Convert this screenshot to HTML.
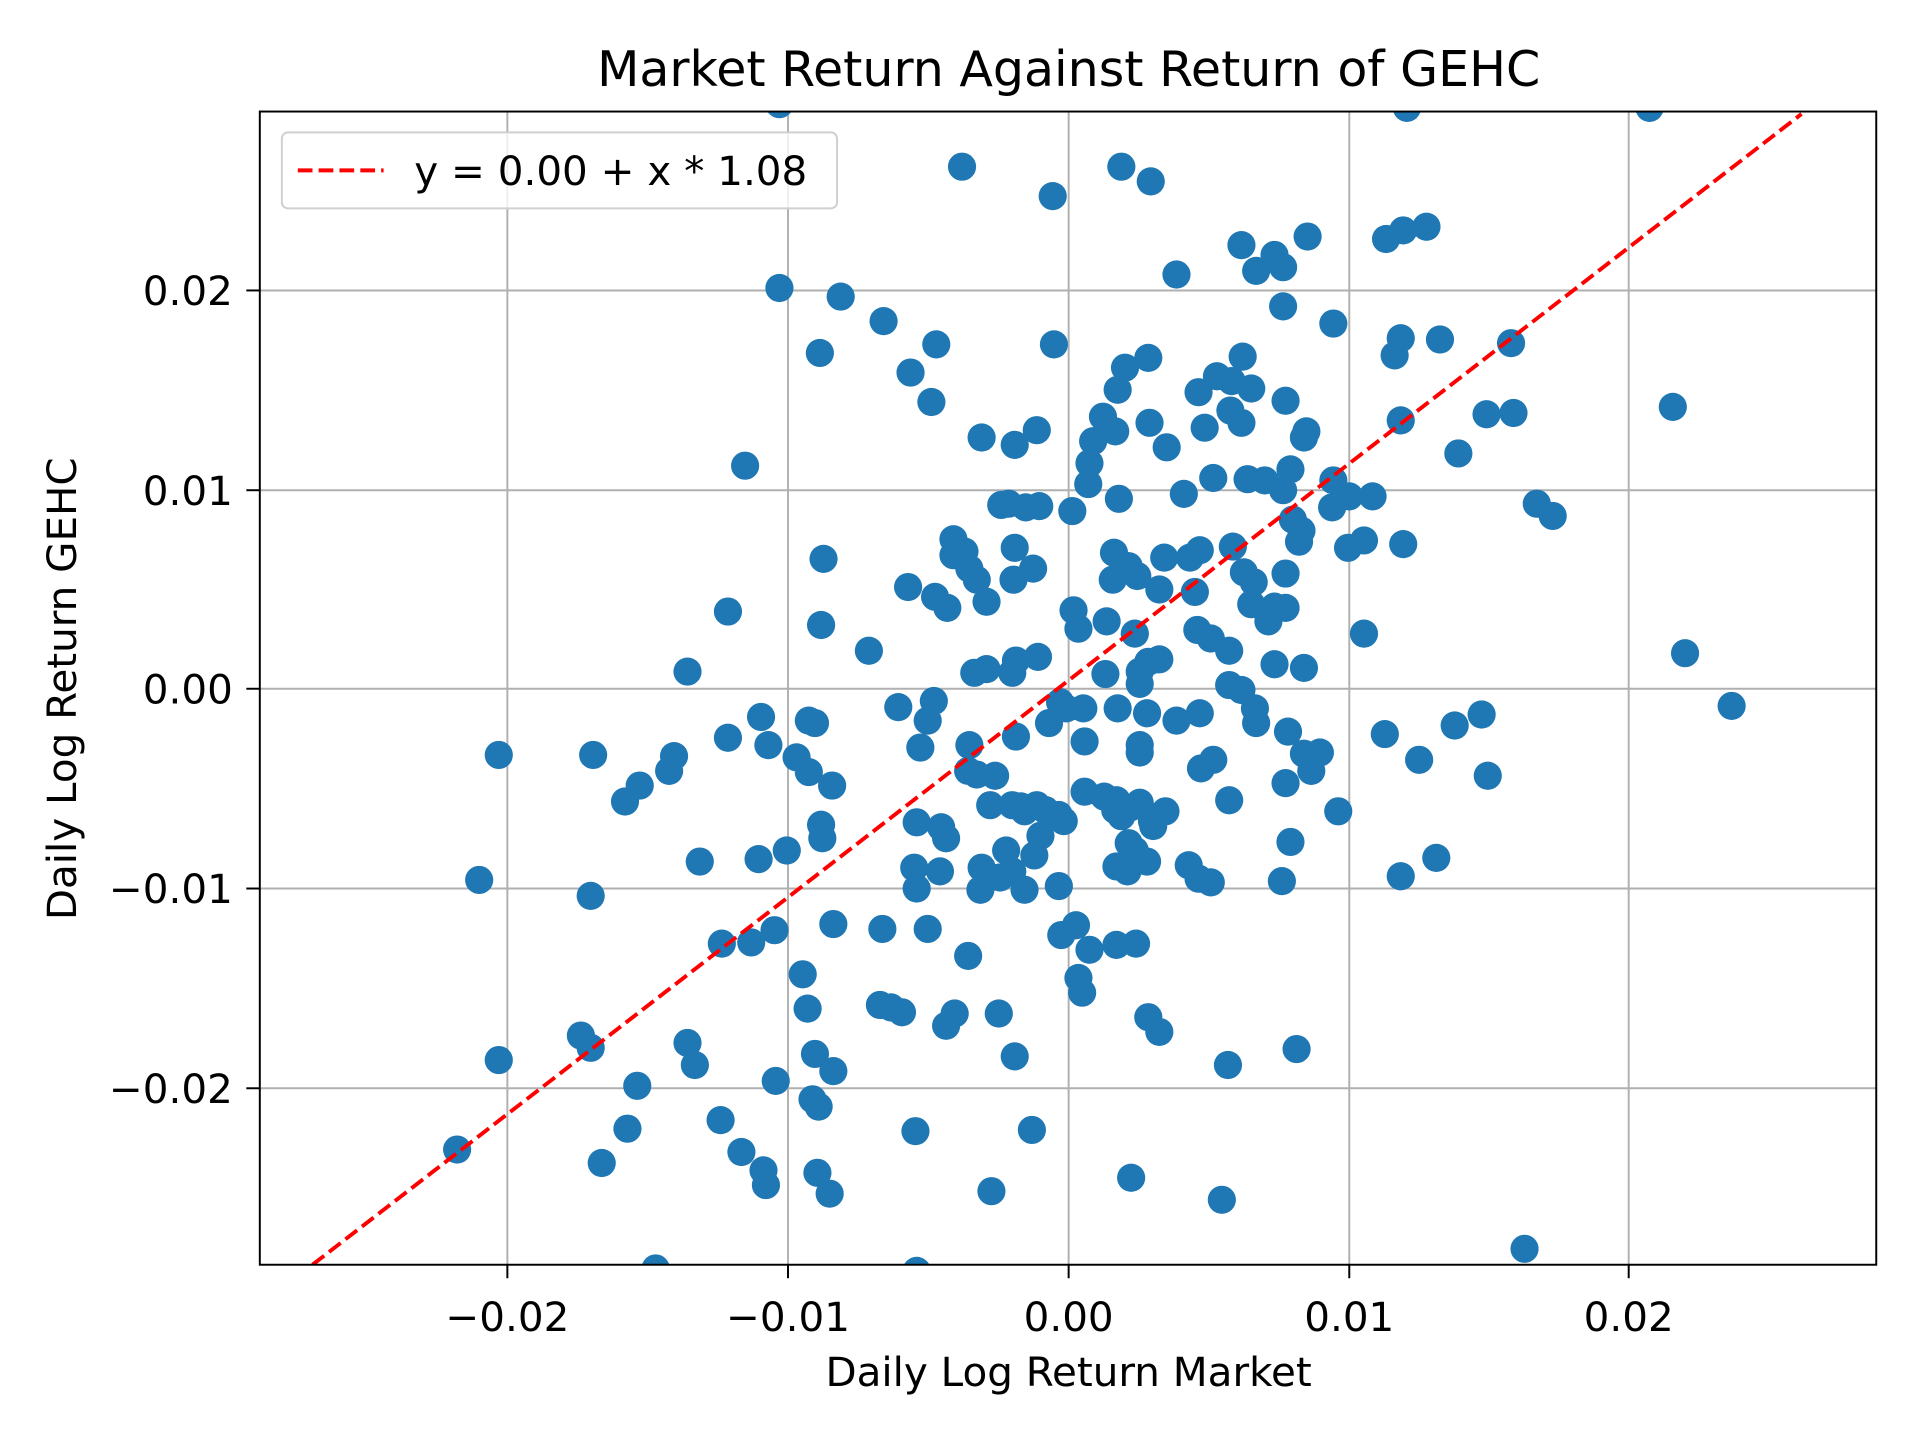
<!DOCTYPE html>
<html><head><meta charset="utf-8"><style>html,body{margin:0;padding:0;background:#fff}svg{display:block}</style></head>
<body>
<svg width="1920" height="1440" viewBox="0 0 1566.7 1175" xmlns="http://www.w3.org/2000/svg" font-family="'DejaVu Sans','Liberation Sans',sans-serif">
<rect x="0" y="0" width="1566.7" height="1175" fill="#fff"/>
<defs><clipPath id="c"><rect x="212" y="91" width="1319" height="941"/></clipPath></defs>
<g stroke="#b0b0b0" stroke-width="1.6">
<line x1="414" y1="91" x2="414" y2="1032"/><line x1="643" y1="91" x2="643" y2="1032"/><line x1="872" y1="91" x2="872" y2="1032"/><line x1="1101" y1="91" x2="1101" y2="1032"/><line x1="1329" y1="91" x2="1329" y2="1032"/>
<line x1="212" y1="237" x2="1531" y2="237"/><line x1="212" y1="400" x2="1531" y2="400"/><line x1="212" y1="562" x2="1531" y2="562"/><line x1="212" y1="725" x2="1531" y2="725"/><line x1="212" y1="888" x2="1531" y2="888"/>
</g>
<path clip-path="url(#c)" fill="none" stroke="#1f77b4" stroke-width="23" stroke-linecap="round" d="M636 85h0M1148 88h0M1346 88h0M785 136h0M915 136h0M939 148h0M859 160h0M960 224h0M1013 200h0M1040 208h0M1025 221h0M1047 218h0M1067 193h0M1131 195h0M1145 188h0M1164 185h0M636 235h0M686 242h0M1047 250h0M1088 264h0M721 262h0M764 281h0M860 281h0M669 288h0M1143 276h0M1175 277h0M1233 280h0M937 292h0M918 300h0M1014 291h0M743 304h0M1138 290h0M978 320h0M993 307h0M1005 311h0M1021 317h0M912 318h0M760 328h0M1049 327h0M900 340h0M1004 335h0M1013 345h0M1143 343h0M938 345h0M1066 352h0M1064 357h0M983 349h0M1213 338h0M1235 337h0M1365 332h0M801 357h0M828 363h0M846 351h0M892 360h0M910 352h0M952 365h0M889 378h0M1190 370h0M608 380h0M888 395h0M966 403h0M1053 383h0M990 390h0M1088 392h0M1120 405h0M1101 405h0M1018 391h0M1032 392h0M1047 400h0M1087 414h0M913 407h0M817 412h0M837 414h0M848 413h0M823 411h0M875 417h0M1254 411h0M1267 421h0M1055 424h0M1062 433h0M1060 442h0M1100 447h0M1113 441h0M1145 444h0M778 440h0M787 450h0M791 464h0M778 453h0M828 447h0M909 451h0M917 461h0M921 462h0M1006 446h0M950 455h0M827 473h0M843 464h0M797 473h0M672 456h0M741 479h0M908 473h0M928 470h0M1015 467h0M1023 475h0M1049 468h0M946 481h0M971 455h0M979 449h0M763 487h0M773 496h0M805 491h0M975 483h0M1040 495h0M1049 496h0M1021 493h0M1035 507h0M594 499h0M670 510h0M876 498h0M880 513h0M903 507h0M977 514h0M988 521h0M1003 531h0M1113 517h0M709 531h0M926 517h0M946 538h0M937 540h0M561 548h0M795 549h0M805 546h0M829 539h0M847 536h0M826 549h0M902 550h0M930 548h0M930 558h0M1003 559h0M1013 563h0M1040 542h0M1064 545h0M1375 533h0M865 573h0M870 578h0M884 578h0M762 572h0M733 577h0M912 578h0M1024 578h0M1025 590h0M1413 576h0M936 582h0M960 588h0M979 582h0M621 585h0M660 588h0M665 590h0M757 588h0M1051 597h0M1130 599h0M1209 583h0M1187 592h0M407 616h0M484 616h0M550 617h0M546 629h0M594 602h0M627 608h0M650 618h0M660 630h0M751 610h0M791 608h0M829 601h0M856 590h0M885 605h0M930 608h0M930 614h0M1064 615h0M1070 629h0M1077 614h0M1049 639h0M1158 620h0M1214 633h0M990 620h0M980 627h0M522 641h0M510 654h0M679 641h0M790 629h0M797 632h0M812 633h0M885 646h0M901 650h0M910 661h0M915 666h0M911 653h0M922 659h0M930 655h0M951 662h0M940 670h0M833 658h0M836 662h0M846 657h0M853 661h0M864 665h0M868 670h0M808 657h0M826 657h0M748 671h0M768 675h0M772 684h0M1003 653h0M1092 662h0M670 673h0M671 684h0M642 694h0M619 701h0M571 703h0M849 682h0M821 694h0M844 698h0M921 688h0M926 694h0M941 674h0M1053 687h0M1172 700h0M391 718h0M482 731h0M746 708h0M767 711h0M801 708h0M816 716h0M826 711h0M748 725h0M800 726h0M836 726h0M864 723h0M911 707h0M920 711h0M936 703h0M970 706h0M978 717h0M988 720h0M1046 719h0M1143 715h0M632 759h0M680 754h0M757 758h0M720 758h0M589 770h0M613 769h0M878 755h0M866 763h0M889 775h0M911 771h0M927 770h0M790 780h0M655 795h0M659 823h0M727 822h0M718 820h0M736 826h0M779 827h0M772 837h0M815 827h0M880 798h0M883 810h0M937 830h0M946 842h0M561 851h0M567 869h0M665 860h0M680 874h0M828 862h0M1002 869h0M1058 856h0M474 845h0M482 855h0M407 865h0M520 886h0M633 882h0M663 897h0M668 903h0M588 914h0M512 921h0M747 923h0M842 922h0M373 938h0M605 940h0M623 955h0M625 967h0M491 949h0M667 957h0M677 974h0M809 972h0M923 961h0M997 979h0M1244 1019h0M535 1035h0M748 1037h0"/>
<line clip-path="url(#c)" x1="255" y1="1032" x2="1470" y2="93" stroke="#f00" stroke-width="3.2" stroke-dasharray="12,5"/>
<rect x="212" y="91" width="1319" height="941" fill="none" stroke="#000" stroke-width="1.6"/>
<g stroke="#000" stroke-width="1.6">
<line x1="414" y1="1032" x2="414" y2="1043"/><line x1="643" y1="1032" x2="643" y2="1043"/><line x1="872" y1="1032" x2="872" y2="1043"/><line x1="1101" y1="1032" x2="1101" y2="1043"/><line x1="1329" y1="1032" x2="1329" y2="1043"/>
<line x1="201" y1="237" x2="212" y2="237"/><line x1="201" y1="400" x2="212" y2="400"/><line x1="201" y1="562" x2="212" y2="562"/><line x1="201" y1="725" x2="212" y2="725"/><line x1="201" y1="888" x2="212" y2="888"/>
</g>
<g font-size="33" fill="#000" text-anchor="middle">
<text x="414" y="1086">−0.02</text><text x="643" y="1086">−0.01</text><text x="872" y="1086">0.00</text><text x="1101" y="1086">0.01</text><text x="1329" y="1086">0.02</text>
</g>
<g font-size="33" fill="#000" text-anchor="end">
<text x="190" y="249">0.02</text><text x="190" y="412">0.01</text><text x="190" y="574">0.00</text><text x="190" y="737">−0.01</text><text x="190" y="900">−0.02</text>
</g>
<text x="872" y="1131" font-size="33" text-anchor="middle">Daily Log Return Market</text>
<text transform="translate(62,562) rotate(-90)" font-size="33" text-anchor="middle">Daily Log Return GEHC</text>
<text x="872" y="70" font-size="40" text-anchor="middle">Market Return Against Return of GEHC</text>
<rect x="230" y="108" width="453" height="62" rx="5" fill="#fff" fill-opacity="0.8" stroke="#d0d0d0" stroke-width="1.6"/>
<line x1="243" y1="139" x2="313" y2="139" stroke="#f00" stroke-width="3.2" stroke-dasharray="12,5"/>
<text x="338" y="151" font-size="33">y = 0.00 + x * 1.08</text>
</svg>
</body></html>
